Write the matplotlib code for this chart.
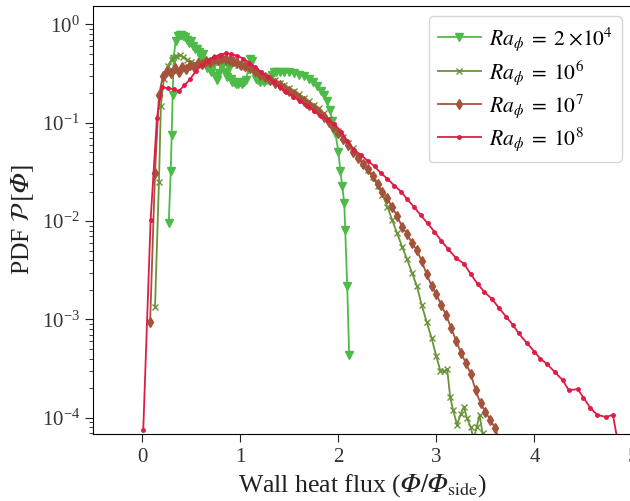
import matplotlib
matplotlib.use("Agg")
import matplotlib.pyplot as plt

plt.rcParams['font.family'] = ['Liberation Serif', 'DejaVu Serif']
plt.rcParams['mathtext.fontset'] = 'stix'

# Ra = 2e4
x_2e4 = [0.27, 0.29, 0.30, 0.31, 0.32, 0.34, 0.36, 0.38, 0.40, 0.42, 0.44, 0.46, 0.48, 0.50,
         0.52, 0.54, 0.56, 0.58, 0.60, 0.62, 0.64, 0.66, 0.68, 0.70, 0.72, 0.74, 0.76, 0.78,
         0.80, 0.82, 0.84, 0.86, 0.88, 0.90, 0.92, 0.94, 0.96, 0.98, 1.00, 1.02, 1.04, 1.06,
         1.08, 1.10, 1.12, 1.14, 1.16, 1.18, 1.20, 1.22, 1.24, 1.26, 1.28, 1.30, 1.32, 1.34,
         1.36, 1.40, 1.45, 1.50, 1.55, 1.60, 1.65, 1.70, 1.74, 1.78, 1.82, 1.85, 1.88, 1.91,
         1.94, 1.97, 2.00, 2.02, 2.04, 2.06, 2.07, 2.09, 2.11]
y_2e4 = [0.0095, 0.032, 0.075, 0.19, 0.45, 0.68, 0.76, 0.78, 0.78, 0.77, 0.75, 0.70, 0.65, 0.68,
         0.60, 0.56, 0.57, 0.52, 0.46, 0.50, 0.42, 0.36, 0.40, 0.33, 0.38, 0.30, 0.27, 0.32,
         0.38, 0.40, 0.33, 0.29, 0.36, 0.28, 0.26, 0.26, 0.25, 0.25, 0.26, 0.25, 0.26, 0.27,
         0.35, 0.45, 0.43, 0.33, 0.28, 0.27, 0.26, 0.27, 0.26, 0.27, 0.27, 0.28, 0.31, 0.33,
         0.33, 0.33, 0.33, 0.325, 0.32, 0.31, 0.30, 0.28, 0.26, 0.235, 0.21, 0.19, 0.165, 0.135,
         0.105, 0.078, 0.051, 0.0325, 0.0227, 0.0154, 0.0081, 0.0022, 0.00044]

# Ra = 1e6
x_1e6 = [0.13, 0.17, 0.19, 0.22, 0.26, 0.30, 0.34, 0.38, 0.42, 0.46, 0.50, 0.54, 0.58, 0.62,
         0.66, 0.70, 0.74, 0.78, 0.82, 0.86, 0.90, 0.94, 0.98, 1.02, 1.06, 1.10, 1.15, 1.20,
         1.25, 1.30, 1.35, 1.40, 1.45, 1.50, 1.55, 1.60, 1.65, 1.70, 1.75, 1.80, 1.85, 1.90,
         1.95, 2.00, 2.05, 2.10, 2.15, 2.20, 2.25, 2.30, 2.35, 2.40, 2.45, 2.50, 2.55, 2.60,
         2.65, 2.70, 2.75, 2.80, 2.85, 2.90, 2.95, 3.00, 3.04, 3.08, 3.11, 3.14, 3.17, 3.21,
         3.25, 3.28, 3.31, 3.35, 3.38, 3.41, 3.44, 3.47, 3.49]
y_1e6 = [0.00135, 0.025, 0.15, 0.28, 0.38, 0.44, 0.48, 0.49, 0.47, 0.44, 0.42, 0.40, 0.39, 0.39,
         0.40, 0.41, 0.42, 0.43, 0.43, 0.42, 0.41, 0.40, 0.39, 0.38, 0.37, 0.36, 0.34, 0.32,
         0.30, 0.285, 0.27, 0.255, 0.24, 0.225, 0.21, 0.195, 0.18, 0.165, 0.152, 0.14, 0.125, 0.11,
         0.095, 0.083, 0.072, 0.062, 0.055, 0.046, 0.039, 0.033, 0.028, 0.023, 0.0185, 0.014, 0.0102, 0.0075,
         0.0055, 0.0041, 0.003, 0.0022, 0.0014, 0.00095, 0.00065, 0.00042, 0.0003, 0.0003, 0.00031, 0.000164, 0.00012, 8.5e-5,
         0.00011, 0.00013, 0.0001, 8e-5, 6e-5, 8e-5, 0.000107, 7e-5, 5e-5]

# Ra = 1e7
x_1e7 = [0.08, 0.13, 0.17, 0.21, 0.25, 0.29, 0.33, 0.37, 0.41, 0.45, 0.49, 0.53, 0.57, 0.61,
         0.65, 0.69, 0.73, 0.77, 0.81, 0.85, 0.89, 0.93, 0.97, 1.01, 1.05, 1.10, 1.15, 1.20,
         1.25, 1.30, 1.35, 1.40, 1.45, 1.50, 1.55, 1.60, 1.65, 1.70, 1.75, 1.80, 1.85, 1.90,
         1.95, 2.00, 2.05, 2.10, 2.15, 2.20, 2.25, 2.30, 2.35, 2.40, 2.45, 2.50, 2.55, 2.60,
         2.65, 2.70, 2.75, 2.80, 2.85, 2.90, 2.95, 3.00, 3.05, 3.10, 3.15, 3.20, 3.25, 3.30,
         3.35, 3.40, 3.45, 3.50, 3.55, 3.60, 3.65]
y_1e7 = [0.00094, 0.031, 0.19, 0.30, 0.34, 0.32, 0.36, 0.33, 0.37, 0.35, 0.39, 0.37, 0.41, 0.40,
         0.43, 0.42, 0.45, 0.44, 0.46, 0.45, 0.44, 0.43, 0.41, 0.39, 0.38, 0.36, 0.34, 0.31,
         0.29, 0.27, 0.255, 0.24, 0.225, 0.21, 0.195, 0.18, 0.165, 0.152, 0.14, 0.128, 0.115, 0.103,
         0.091, 0.079, 0.068, 0.059, 0.051, 0.044, 0.038, 0.034, 0.029, 0.024, 0.020, 0.017, 0.0138, 0.0112,
         0.0088, 0.0074, 0.006, 0.0051, 0.0039, 0.0029, 0.0022, 0.0018, 0.0014, 0.0011, 0.00082, 0.00061, 0.00046, 0.00036,
         0.00028, 0.00019, 0.00014, 0.000115, 9.5e-5, 7.8e-5, 5.5e-5]

# Ra = 1e8
x_1e8 = [0.01, 0.085, 0.15, 0.20, 0.26, 0.32, 0.37, 0.43, 0.49, 0.55, 0.61, 0.67, 0.73, 0.79,
         0.85, 0.91, 0.97, 1.03, 1.09, 1.15, 1.21, 1.28, 1.34, 1.40, 1.47, 1.54, 1.61, 1.68,
         1.75, 1.82, 1.89, 1.96, 2.03, 2.09, 2.16, 2.23, 2.30, 2.37, 2.43, 2.50, 2.57, 2.64,
         2.70, 2.77, 2.84, 2.91, 2.98, 3.05, 3.12, 3.20, 3.28, 3.35, 3.42, 3.49, 3.57, 3.64,
         3.71, 3.78, 3.84, 3.92, 4.00, 4.06, 4.13, 4.21, 4.29, 4.35, 4.44, 4.50, 4.57, 4.64,
         4.73, 4.80, 4.86]
y_1e8 = [7.5e-5, 0.0102, 0.113, 0.23, 0.225, 0.22, 0.21, 0.24, 0.28, 0.34, 0.39, 0.43, 0.47, 0.49,
         0.51, 0.50, 0.48, 0.45, 0.41, 0.37, 0.33, 0.29, 0.26, 0.23, 0.205, 0.185, 0.168, 0.15,
         0.133, 0.118, 0.108, 0.097, 0.081, 0.065, 0.053, 0.047, 0.041, 0.036, 0.031, 0.027, 0.023, 0.0200,
         0.0168, 0.014, 0.0115, 0.0095, 0.0078, 0.0063, 0.0052, 0.0042, 0.0037, 0.0029, 0.0023, 0.0019, 0.0016, 0.0013,
         0.00107, 0.00088, 0.00072, 0.00058, 0.00047, 0.0004, 0.00035, 0.00029, 0.00024, 0.00019, 0.000196, 0.00016, 0.000126, 0.000107,
         0.000102, 0.000107, 5e-5]

labels = [r'$Ra_{\phi}\;=\;2\;{\times}10^4$', r'$Ra_{\phi}\;=\;10^6$',
          r'$Ra_{\phi}\;=\;10^7$', r'$Ra_{\phi}\;=\;10^8$']

PHI = '\U0001D6F7'  # italic capital phi

fig = plt.figure(figsize=(6.3, 5.01), dpi=100)
ax = fig.add_axes([0.148, 0.133, 0.856, 0.856])

ax.plot(x_2e4, y_2e4, color='#4dbb48', marker='v', markersize=6, lw=1.3, label=labels[0])
ax.plot(x_1e6, y_1e6, color='#6a9438', marker='x', markersize=4.5, mew=1.0, lw=1.3, label=labels[1])
ax.plot(x_1e7, y_1e7, color='#a5533a', marker='d', markersize=5, lw=1.3, label=labels[2])
ax.plot(x_1e8, y_1e8, color='#de1c45', marker='.', markersize=5, lw=1.3, label=labels[3])

ax.set_yscale('log')
ax.set_xlim(-0.5, 5.0)
ax.set_ylim(6.78e-5, 1.56)
ax.set_xticks([0, 1, 2, 3, 4, 5])

ax.tick_params(axis='both', which='major', labelsize=15, length=6, colors='#222222', labelcolor='#333333')
ax.tick_params(axis='y', which='minor', length=3, colors='#222222')
ax.tick_params(axis='x', which='minor', bottom=False)

ax.set_xlabel('Wall heat flux ($' + PHI + '/' + PHI + r'_{\rm side}$)', fontsize=18.5, color='#222222')
ax.set_ylabel(r'PDF $\mathcal{P}\,[' + PHI + ']$', fontsize=18.5, color='#222222')

leg = ax.legend(loc='upper right', fontsize=15.5, frameon=True, fancybox=True,
                handletextpad=0.4, labelspacing=0.25)
leg.get_frame().set_edgecolor('#cccccc')

fig.savefig('out.png', dpi=100)
